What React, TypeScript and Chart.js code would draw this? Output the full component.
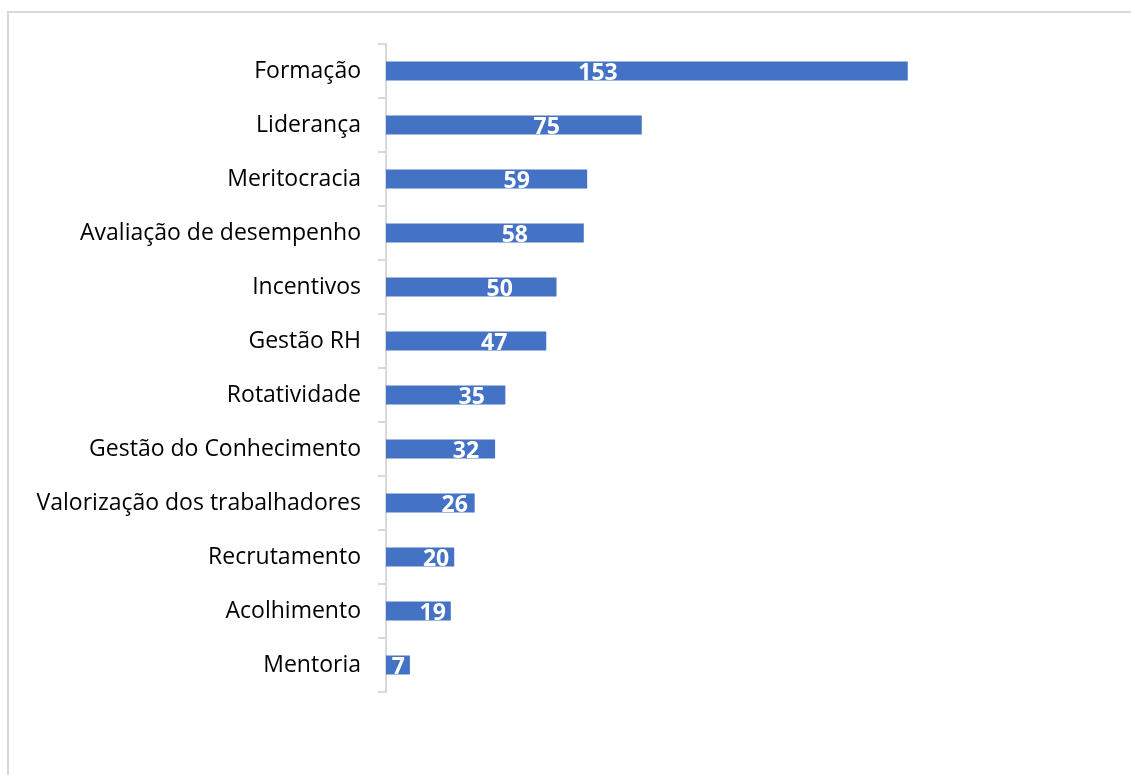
import React, { useEffect, useRef } from "react";
import { Chart, registerables } from "chart.js";

Chart.register(...registerables);

const categories: string[] = [
  "Formação",
  "Liderança",
  "Meritocracia",
  "Avaliação de desempenho",
  "Incentivos",
  "Gestão RH",
  "Rotatividade",
  "Gestão do Conhecimento",
  "Valorização dos trabalhadores",
  "Recrutamento",
  "Acolhimento",
  "Mentoria",
];

const counts: number[] = [153, 75, 59, 58, 50, 47, 35, 32, 26, 20, 19, 7];

const FONT = "'Open Sans', 'Noto Sans', sans-serif";

const barLabels = {
  id: "barLabels",
  afterDatasetsDraw(chart: any) {
    const ctx = chart.ctx;
    const meta = chart.getDatasetMeta(0);
    ctx.save();
    ctx.fillStyle = "#ffffff";
    ctx.font = `bold 23px ${FONT}`;
    ctx.textAlign = "center";
    ctx.textBaseline = "middle";
    meta.data.forEach((bar: any, i: number) => {
      const txt = String(counts[i]);
      const w = bar.x - bar.base;
      const tw = ctx.measureText(txt).width;
      let off = Math.min(w - tw / 2 - 5, 0.55 * w + 20, 212);
      if (off < tw / 2) off = w / 2;
      ctx.fillText(txt, bar.base + off, bar.y + 2);
    });
    ctx.restore();
  },
};

export default function App() {
  const ref = useRef<HTMLCanvasElement | null>(null);

  useEffect(() => {
    document.body.style.margin = "0";
    document.body.style.overflow = "hidden";
    const chart = new Chart(ref.current as HTMLCanvasElement, {
      type: "bar",
      data: {
        labels: categories,
        datasets: [
          {
            data: counts,
            backgroundColor: "#4472C4",
            borderWidth: 0,
            categoryPercentage: 1,
            barPercentage: 0.352,
          },
        ],
      },
      options: {
        indexAxis: "y",
        animation: false,
        responsive: false,
        maintainAspectRatio: false,
        layout: { padding: { left: 0, right: 63, top: 44, bottom: 83 } },
        plugins: {
          legend: { display: false },
          tooltip: { enabled: false },
        },
        scales: {
          x: {
            display: false,
            min: 0,
            max: 200,
          },
          y: {
            afterFit: (scale: any) => {
              scale.width = 386;
            },
            grid: {
              offset: true,
              drawOnChartArea: false,
              drawTicks: true,
              tickLength: 8,
              color: "#d9d9d9",
              lineWidth: 2,
            },
            border: { display: true, color: "#d9d9d9", width: 2 },
            ticks: {
              color: "#000000",
              padding: 17,
              font: { family: FONT, size: 23 },
              autoSkip: false,
            },
          },
        },
      },
      plugins: [barLabels],
    });
    return () => chart.destroy();
  }, []);

  return (
    <div
      style={{
        position: "fixed",
        left: 0,
        top: 0,
        width: 1131,
        height: 775,
        overflow: "hidden",
        background: "#ffffff",
      }}
    >
      <div
        style={{
          position: "absolute",
          left: 7,
          top: 11,
          width: 1300,
          height: 900,
          border: "2px solid #d9d9d9",
        }}
      />
      <canvas
        ref={ref}
        width={1131}
        height={775}
        style={{ position: "absolute", left: 0, top: 0 }}
      />
    </div>
  );
}
